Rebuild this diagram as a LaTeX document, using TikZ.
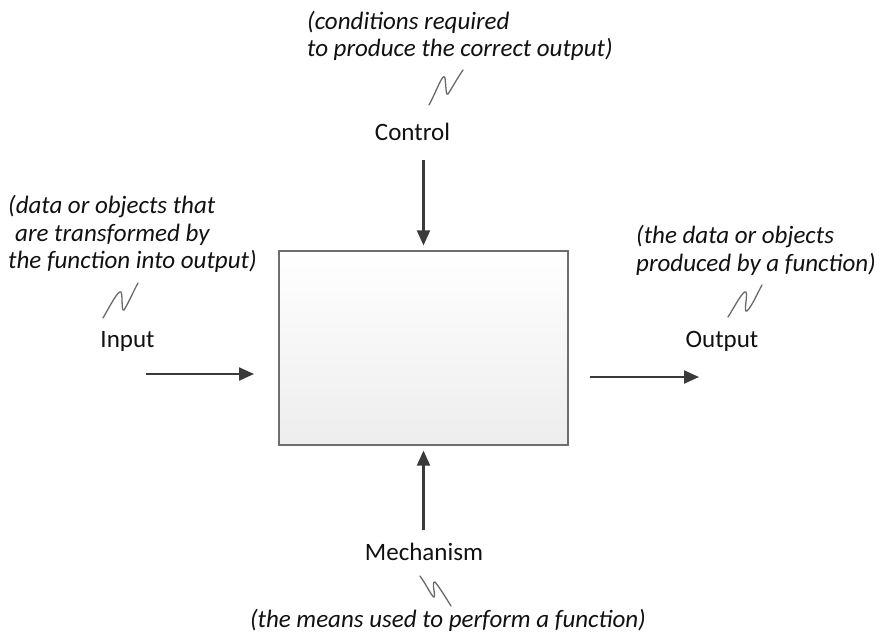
\documentclass[tikz,border=0pt]{standalone}
\usepackage{fontspec}
\setmainfont{Carlito}
\usetikzlibrary{arrows.meta,positioning,shadings}
\definecolor{inkgray}{HTML}{111111}
\definecolor{arrowgray}{HTML}{3A3A3A}
\definecolor{framegray}{HTML}{6E6E6E}
\definecolor{squigglegray}{HTML}{6A6A6A}
\begin{document}
\begin{tikzpicture}[
        x=1pt, y=-1pt,
        >={Triangle[length=15pt,width=13pt]},
        font=\fontsize{25}{27.5}\selectfont,
        every node/.style={text=inkgray, inner sep=0pt},
        note/.style={font=\fontsize{25}{27.5}\selectfont\itshape, align=left},
        flow/.style={->, draw=arrowgray, line width=2.2pt},
        squiggle/.style={draw=squigglegray, line width=1.3pt, line cap=round}
    ]

        % --- Rahmen ---
        \useasboundingbox (0,0) rectangle (880,641);

        % --- Funktionsblock ---
        \node[draw=framegray, line width=1.2pt, top color=white, bottom color=black!7,
              minimum width=289pt, minimum height=194pt] (func) at (423.5,348) {};

        % --- Control (oben) ---
        \node[note, anchor=north west] (ctrlnote) at (307,11)
            {(conditions required\\to produce the correct output)};
        \node[anchor=base] (ctrl) at (412.5,140) {Control};
        \draw[squiggle] (429,105) .. controls (438,88) and (443,72) .. (445,78)
            .. controls (446,86) and (446,97) .. (448,94) .. controls (452,88) and (458,77) .. (463,70);

        % --- Input (links) ---
        \node[note, anchor=north west] (innote) at (8,195.5)
            {(data or objects that\\\hspace*{7pt}are transformed by\\the function into output)};
        \node[anchor=base] (input) at (127.5,347) {Input};
        \draw[squiggle] (103,318) .. controls (110,306) and (118,290) .. (121,292)
            .. controls (123,296) and (121,312) .. (124,310) .. controls (128,304) and (133,292) .. (138,283);

        % --- Output (rechts) ---
        \node[note, anchor=north west] (outnote) at (636,225.5)
            {(the data or objects\\produced by a function)};
        \node[anchor=base] (output) at (722,347) {Output};
        \draw[squiggle] (728,317) .. controls (735,306) and (743,290) .. (746,292)
            .. controls (748,296) and (743,313) .. (747,311) .. controls (752,306) and (757,294) .. (762,285);

        % --- Mechanism (unten) ---
        \node[anchor=base] (mech) at (424,560) {Mechanism};
        \node[note, anchor=base east] (mechnote) at (646,627)
            {(the means used to perform a function)};
        \draw[squiggle] (420,576) .. controls (426,584) and (432,597) .. (434,597)
            .. controls (436,596) and (431,581) .. (435,582) .. controls (440,588) and (446,598) .. (451,606);

        % --- Pfeile ---
        \coordinate (inStart) at (146,374);
        \coordinate (inEnd) at (254,374);
        \coordinate (outStart) at (590,377);
        \coordinate (outEnd) at (699,377);

        \draw[flow] (inStart) -- (inEnd);
        \draw[flow] (outStart) -- (outEnd);
        \draw[flow, shorten >=5pt] (ctrl.south -| func.north) ++(0,20) -- (func.north);
        \draw[flow, shorten >=5pt] (mech.north -| func.south) ++(0,-12) -- (func.south);

    \end{tikzpicture}
\end{document}
